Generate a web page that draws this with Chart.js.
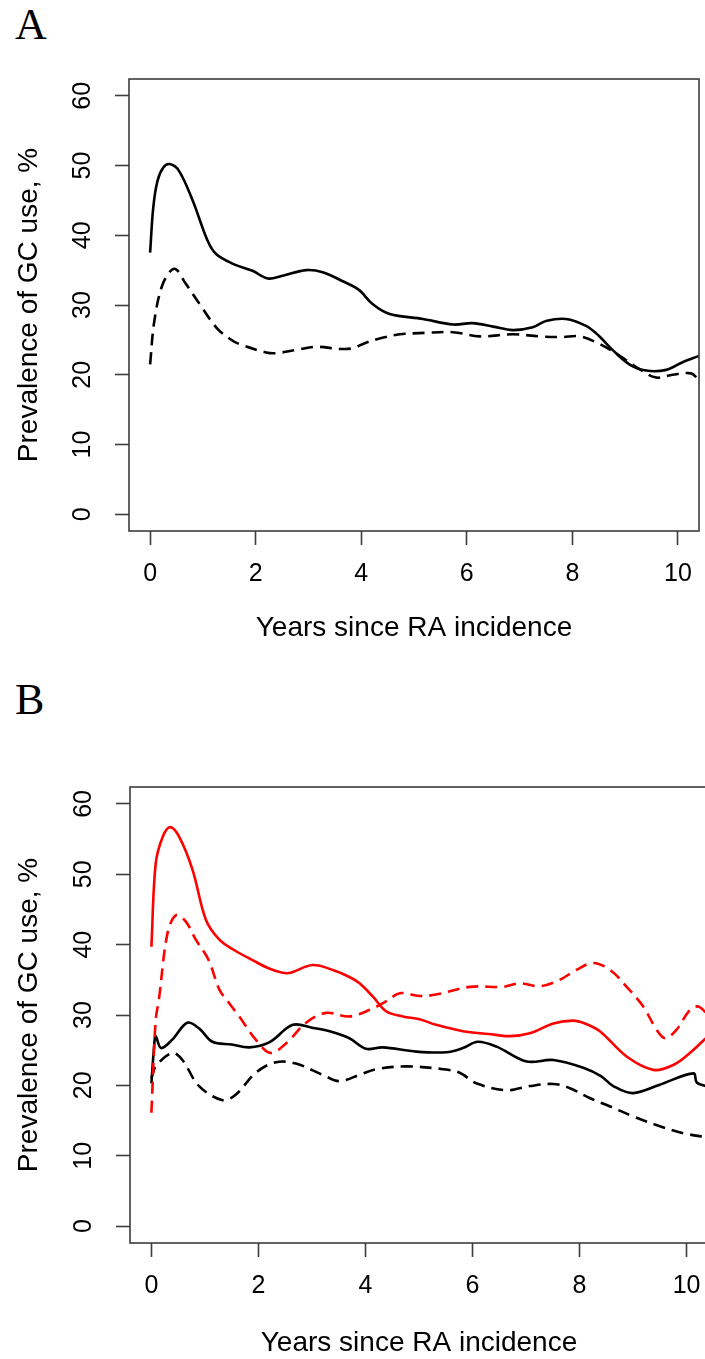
<!DOCTYPE html>
<html>
<head>
<meta charset="utf-8">
<script src="https://cdn.jsdelivr.net/npm/chart.js@4.4.1/dist/chart.umd.min.js"></script>
<style>
  html, body { margin: 0; padding: 0; background: #fff; overflow: hidden; width: 705px; height: 1359px; }
  .panel { position: absolute; left: 0; }
  .tag { position: absolute; left: 15px; font-family: "Liberation Serif", "DejaVu Serif", serif; font-size: 44px; line-height: 44px; color: #000; }
</style>
</head>
<body>
<div class="tag" style="top:3px">A</div>
<div class="tag" style="top:678px">B</div>
<div class="panel" style="top:0"><canvas id="chartA" width="705" height="700"></canvas></div>
<div class="panel" style="top:680px"><canvas id="chartB" width="712" height="700"></canvas></div>
<script>
// eixos
var xTicks = [0, 2, 4, 6, 8, 10];
var yTicks = [0, 10, 20, 30, 40, 50, 60];

// Painel A - linha cheia
var aSolidX = [0, 0.06, 0.14, 0.25, 0.37, 0.55, 0.81, 1.09, 1.25, 1.57, 1.94, 2.23, 2.51, 2.96, 3.27, 3.65, 3.95, 4.22, 4.54, 5.17, 5.74, 6.11, 6.5, 6.87, 7.25, 7.5, 7.88, 8.26, 8.5, 8.77, 9.08, 9.4, 9.78, 10.09, 10.4];
var aSolidY = [37.5, 44, 47.8, 49.7, 50.2, 49.2, 44.9, 39.2, 37.3, 35.9, 34.9, 33.8, 34.2, 35.0, 34.7, 33.4, 32.2, 30.1, 28.7, 28.0, 27.2, 27.4, 26.9, 26.4, 26.8, 27.7, 28.0, 27.0, 25.6, 23.5, 21.5, 20.6, 20.7, 21.8, 22.7];

// Painel A - linha tracejada
var aDashX = [0, 0.08, 0.24, 0.46, 0.68, 0.95, 1.25, 1.5, 1.69, 2.2, 2.39, 2.8, 3.15, 3.6, 3.84, 4.09, 4.4, 4.73, 5.2, 5.74, 6.24, 6.87, 7.38, 7.8, 8.14, 8.52, 8.9, 9.27, 9.59, 9.9, 10.25, 10.4];
var aDashY = [21.5, 27.7, 33.0, 35.2, 33.0, 30.0, 26.8, 25.2, 24.4, 23.2, 23.1, 23.6, 24.0, 23.7, 23.8, 24.6, 25.3, 25.8, 26.0, 26.1, 25.5, 25.8, 25.5, 25.4, 25.5, 24.4, 22.7, 20.8, 19.6, 20.0, 20.2, 19.2];

// Painel B - vermelho cheio
var bRedSolidX = [0, 0.08, 0.21, 0.35, 0.52, 0.77, 1.02, 1.27, 1.55, 1.89, 2.2, 2.45, 2.6, 3.01, 3.39, 3.7, 3.89, 4.14, 4.39, 4.7, 5.01, 5.32, 5.82, 6.3, 6.69, 7.07, 7.51, 7.88, 8.1, 8.38, 8.88, 9.38, 9.75, 10.06, 10.4];
var bRedSolidY = [39.7, 51.5, 55.3, 56.7, 55.3, 50.6, 43.5, 40.7, 39.2, 37.8, 36.6, 36.0, 36.0, 37.1, 36.4, 35.4, 34.5, 32.6, 30.5, 29.8, 29.4, 28.6, 27.7, 27.3, 27.0, 27.4, 28.8, 29.2, 28.8, 27.7, 24.1, 22.2, 22.9, 24.6, 27.0];

// Painel B - vermelho tracejado
var bRedDashX = [0, 0.08, 0.14, 0.3, 0.46, 0.64, 0.83, 1.07, 1.27, 1.45, 1.64, 1.95, 2.23, 2.52, 2.89, 3.26, 3.7, 4.07, 4.4, 4.64, 5.01, 5.32, 5.95, 6.57, 6.88, 7.26, 7.63, 7.94, 8.25, 8.57, 8.88, 9.19, 9.44, 9.6, 9.81, 10.06, 10.22, 10.4];
var bRedDashY = [16.1, 29.3, 32.2, 41.6, 44.2, 43.3, 40.7, 37.8, 33.6, 31.7, 29.8, 26.5, 24.6, 26.0, 28.9, 30.3, 29.8, 30.7, 32.0, 33.1, 32.7, 32.9, 34.0, 34.0, 34.5, 34.1, 35.0, 36.4, 37.4, 36.4, 34.0, 31.2, 27.9, 26.7, 27.9, 30.7, 31.2, 30.0];

// Painel B - preto cheio
var bBlackSolidX = [0, 0.05, 0.08, 0.18, 0.39, 0.67, 0.89, 1.14, 1.5, 1.83, 2.2, 2.64, 3.0, 3.33, 3.7, 4.01, 4.32, 4.95, 5.51, 5.82, 6.1, 6.45, 7.01, 7.51, 8.07, 8.4, 8.63, 9.0, 9.5, 10.13, 10.19, 10.4];
var bBlackSolidY = [20.3, 25.5, 27.0, 25.3, 26.5, 28.9, 28.1, 26.2, 25.8, 25.4, 26.1, 28.6, 28.2, 27.7, 26.7, 25.2, 25.4, 24.8, 24.7, 25.3, 26.2, 25.5, 23.4, 23.6, 22.5, 21.3, 19.9, 18.9, 20.1, 21.7, 20.4, 19.8];

// Painel B - preto tracejado
var bBlackDashX = [0, 0.08, 0.39, 0.58, 0.89, 1.33, 1.58, 1.95, 2.33, 2.7, 3.2, 3.51, 3.89, 4.2, 4.76, 5.45, 5.76, 6.07, 6.63, 7.07, 7.51, 7.82, 8.19, 8.57, 9.0, 9.5, 9.94, 10.4];
var bBlackDashY = [21.0, 22.7, 24.6, 23.6, 19.9, 17.9, 18.7, 21.8, 23.3, 23.1, 21.5, 20.6, 21.5, 22.3, 22.7, 22.3, 21.8, 20.3, 19.3, 19.9, 20.2, 19.6, 18.2, 17.0, 15.6, 14.2, 13.2, 12.6];

var corEixo = "#3c3c3c";
var fonte = "'Liberation Sans', Arial, Helvetica, sans-serif";

function pontos(xs, ys) {
  return xs.map(function (x, i) { return { x: x, y: ys[i] }; });
}

function serie(xs, ys, cor, tracejada) {
  return {
    data: pontos(xs, ys),
    borderColor: cor,
    borderWidth: 2.6,
    borderDash: tracejada ? [12, 7] : [],
    borderCapStyle: "butt",
    pointRadius: 0,
    tension: 0.35,
    fill: false,
  };
}

// desenha a caixa em volta da área do gráfico (estilo R)
var caixaPlugin = {
  id: "caixa",
  afterDatasetsDraw: function (chart) {
    var a = chart.chartArea;
    var ctx = chart.ctx;
    ctx.save();
    ctx.strokeStyle = corEixo;
    ctx.lineWidth = 1.6;
    ctx.strokeRect(a.left, a.top, a.right - a.left, a.bottom - a.top);
    ctx.restore();
  },
};

function criarPainel(id, datasets, g) {
  var ctx = document.getElementById(id).getContext("2d");
  return new Chart(ctx, {
    type: "line",
    data: { datasets: datasets },
    options: {
      responsive: false,
      animation: false,
      events: [],
      layout: { padding: { left: 0, top: g.top, right: g.right, bottom: 0 } },
      plugins: { legend: { display: false }, tooltip: { enabled: false } },
      scales: {
        x: {
          type: "linear",
          min: -0.4,
          max: 10.4,
          afterBuildTicks: function (s) {
            s.ticks = xTicks.map(function (v) { return { value: v }; });
          },
          afterFit: function (s) {
            s.height = g.xHeight;
            s.paddingLeft = 0;
            s.paddingRight = 0;
          },
          grid: { display: true, drawOnChartArea: false, drawTicks: true, tickLength: 14, tickWidth: 1.6, tickColor: corEixo },
          border: { display: false },
          ticks: { color: "#000", autoSkip: false, maxRotation: 0, padding: 14, font: { family: fonte, size: 25 } },
          title: { display: true, text: "Years since RA incidence", color: "#000", font: { family: fonte, size: 28 }, padding: { top: 0, bottom: g.xTitlePad } },
        },
        y: {
          type: "linear",
          min: -2.4,
          max: 62.4,
          afterBuildTicks: function (s) {
            s.ticks = yTicks.map(function (v) { return { value: v }; });
          },
          afterFit: function (s) {
            s.width = g.yWidth;
            s.paddingTop = 0;
            s.paddingBottom = 0;
          },
          grid: { display: true, drawOnChartArea: false, drawTicks: true, tickLength: 14, tickWidth: 1.6, tickColor: corEixo },
          border: { display: false },
          ticks: { color: "#000", autoSkip: false, minRotation: 90, maxRotation: 90, crossAlign: "center", padding: 18, font: { family: fonte, size: 25 } },
          title: { display: true, text: "Prevalence of GC use, %", color: "#000", font: { family: fonte, size: 28 }, padding: { top: 12, bottom: 0 } },
        },
      },
    },
    plugins: [caixaPlugin],
  });
}

criarPainel("chartA", [
  serie(aSolidX, aSolidY, "#000", false),
  serie(aDashX, aDashY, "#000", true),
], { top: 79, right: 6, yWidth: 129, xHeight: 169, xTitlePad: 55 });

criarPainel("chartB", [
  serie(bRedSolidX, bRedSolidY, "#ff0000", false),
  serie(bRedDashX, bRedDashY, "#ff0000", true),
  serie(bBlackSolidX, bBlackSolidY, "#000", false),
  serie(bBlackDashX, bBlackDashY, "#000", true),
], { top: 107, right: 4, yWidth: 130, xHeight: 137, xTitlePad: 20 });
</script>
</body>
</html>
